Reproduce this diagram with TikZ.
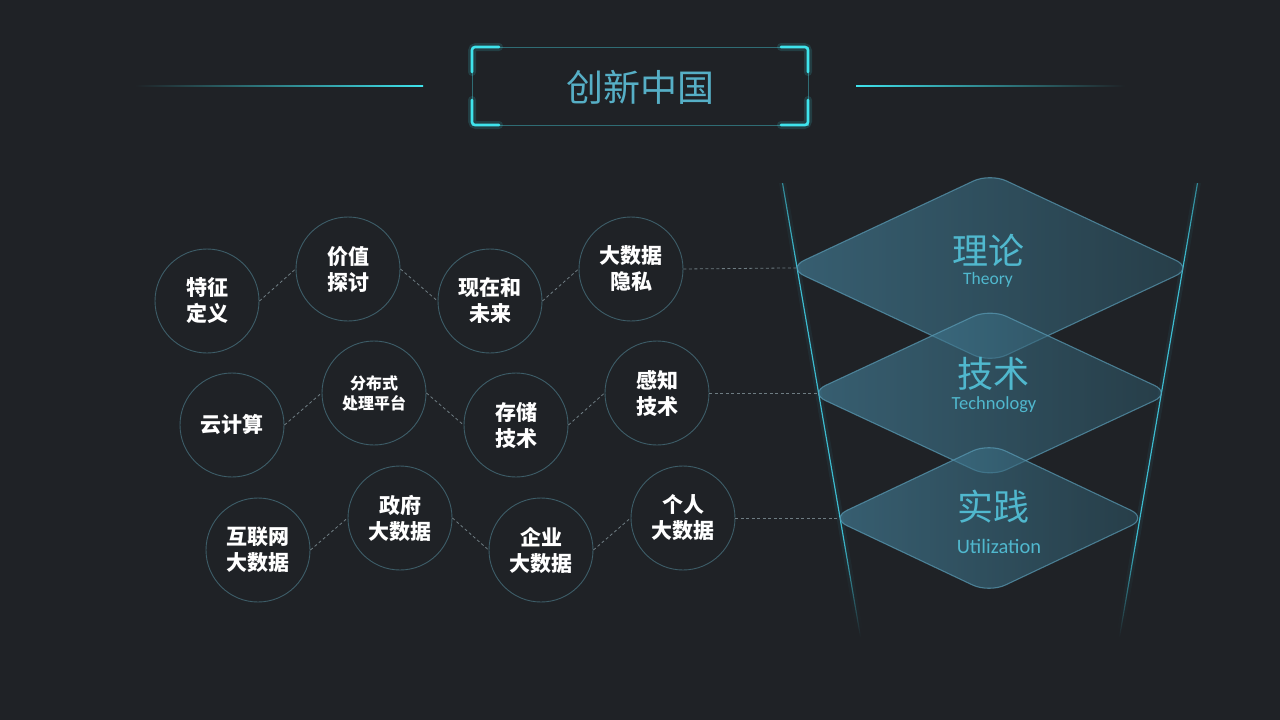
\documentclass[tikz,border=0pt]{standalone}
\usepackage{fontspec}
\newfontfamily\cjk{Noto Sans CJK SC}
\newfontfamily\latn{Carlito}
\usetikzlibrary{shapes.geometric}
\definecolor{bgdark}{HTML}{1F2226}
\definecolor{ringline}{HTML}{3D5D68}
\definecolor{linkgray}{HTML}{6E7C82}
\definecolor{glowcyan}{HTML}{3FE3EC}
\definecolor{funnelcyan}{HTML}{3DBCD0}
\definecolor{framecyan}{HTML}{2F6C74}
\definecolor{titleteal}{HTML}{56AFC6}
\definecolor{layerlight}{HTML}{4888A4}
\definecolor{layerdark}{HTML}{2C505F}
\definecolor{layeredge}{HTML}{5A9CB6}
\definecolor{layertext}{HTML}{50B8CE}
\pgfdeclareverticalshading{funnelfade}{100bp}{color(0bp)=(bgdark); color(25bp)=(bgdark); color(36bp)=(funnelcyan); color(66bp)=(funnelcyan); color(75bp)=(bgdark!35!funnelcyan); color(100bp)=(bgdark!35!funnelcyan)}
\tikzset{
  topic/.style={circle, draw=ringline, line width=0.9pt, minimum size=104pt, inner sep=0pt, align=center, text=white, font=\cjk\bfseries\fontsize{21}{26}\selectfont},
  topicsmall/.style={topic, font=\cjk\bfseries\fontsize{16}{20}\selectfont},
  link/.style={draw=linkgray, line width=0.8pt, dash pattern=on 3pt off 2.5pt},
  layer/.style={diamond, draw=layeredge, draw opacity=0.7, line width=1.1pt, left color=layerlight, right color=layerdark, fill opacity=0.6, rounded corners=18pt, inner sep=0pt},
  layercn/.style={text=layertext, font=\cjk\fontsize{36}{40}\selectfont},
  layeren/.style={text=layertext, font=\latn\fontsize{18.5}{21}\selectfont},
  bracket/.style={draw=glowcyan, line width=2.6pt, rounded corners=3pt, line cap=round},
  bracketglow/.style={draw=glowcyan, line width=8pt, opacity=0.15, rounded corners=4pt, line cap=round},
}
\begin{document}
\begin{tikzpicture}[x=1pt, y=-1pt]
  \fill[bgdark] (0,0) rectangle (1280,720);

  % Title frame
  \shade[left color=bgdark, right color=glowcyan] (135,85) rectangle (423,86.8);
  \shade[left color=glowcyan, right color=bgdark] (856,85) rectangle (1125,86.8);
  \draw[framecyan, line width=0.9pt] (472,47) rectangle (808,125);
  \foreach \cx/\cy/\dx/\dy in {472/47/1/1, 808/47/-1/1, 472/125/1/-1, 808/125/-1/-1} {
    \draw[bracketglow] ({\cx+27*\dx},\cy) -- (\cx,\cy) -- (\cx,{\cy+25*\dy});
    \draw[bracket] ({\cx+27*\dx},\cy) -- (\cx,\cy) -- (\cx,{\cy+25*\dy});
  }
  \node[text=titleteal, font=\cjk\fontsize{37}{40}\selectfont] (title) at (640,87) {创新中国};

  % Funnel
  \shade[shading=funnelfade, opacity=0.07] (779,183) -- (786,183) -- (864,637) -- (857,637) -- cycle;
  \shade[shading=funnelfade] (781.9,183) -- (783.1,183) -- (861.1,637) -- (859.9,637) -- cycle;
  \shade[shading=funnelfade, opacity=0.07] (1194,183) -- (1201,183) -- (1123,637) -- (1116,637) -- cycle;
  \shade[shading=funnelfade] (1196.9,183) -- (1198.1,183) -- (1120.1,637) -- (1118.9,637) -- cycle;

  % Layers
  \node[layer, minimum width=405pt, minimum height=190pt] (theory) at (990,268) {};
  \node[layer, minimum width=362pt, minimum height=169pt] (tech) at (990,393) {};
  \node[layer, minimum width=317pt, minimum height=150pt] (usage) at (989,518) {};
  \node[layercn] (theorycn) at (988,250) {理论};
  \node[layeren, font=\latn\fontsize{17.5}{20}\selectfont] (theoryen) at (988,280) {Theory};
  \node[layercn] (techcn) at (993,374) {技术};
  \node[layeren] (techen) at (994,405) {Technology};
  \node[layercn] (usagecn) at (993,507) {实践};
  \node[layeren, font=\latn\fontsize{20.5}{23}\selectfont] (usageen) at (999,546) {Utilization};

  % Row 1
  \node[topic] (feat) at (207,301) {特征\\定义};
  \node[topic] (value) at (348,269) {价值\\探讨};
  \node[topic] (now) at (490,301) {现在和\\未来};
  \node[topic] (privacy) at (631,269) {大数据\\隐私};

  % Row 2
  \node[topic] (cloud) at (232,425) {云计算};
  \node[topicsmall] (distrib) at (374,393) {分布式\\处理平台};
  \node[topic] (store) at (516,425) {存储\\技术};
  \node[topic] (sense) at (657,393) {感知\\技术};

  % Row 3
  \node[topic] (web) at (258,550) {互联网\\大数据};
  \node[topic] (gov) at (400,518) {政府\\大数据};
  \node[topic] (firm) at (541,550) {企业\\大数据};
  \node[topic] (person) at (683,518) {个人\\大数据};

  % Links
  \foreach \a/\b in {feat/value, value/now, now/privacy, cloud/distrib, distrib/store, store/sense, web/gov, gov/firm, firm/person} {
    \draw[link] (\a.east) -- (\b.west);
  }
  \draw[link, shorten >=-9.5pt] (privacy.east) -- (theory.west);
  \draw[link, shorten >=-9.5pt] (sense.east) -- (tech.west);
  \draw[link, shorten >=-9.5pt] (person.east) -- (usage.west);
\end{tikzpicture}
\end{document}
